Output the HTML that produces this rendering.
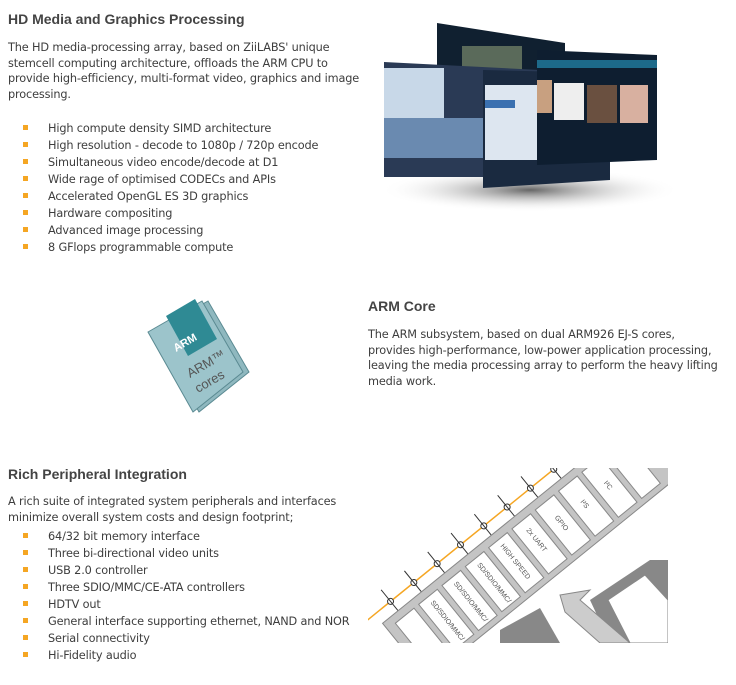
<!DOCTYPE html>
<html><head><meta charset="utf-8"><style>
body{margin:0;width:736px;height:685px;background:#fff;position:relative;overflow:hidden;font-family:"DejaVu Sans","Liberation Sans",sans-serif;color:#3d3d3d}
.h{position:absolute;font:bold 14px "Liberation Sans",sans-serif;color:#444;margin:0}
.p{position:absolute;font-size:11.3px;line-height:15.5px;letter-spacing:-0.15px;margin:0;white-space:nowrap}
ul{position:absolute;list-style:none;margin:0;padding:0;font-size:11.3px;letter-spacing:-0.15px}
li{height:17px;line-height:17px;position:relative;padding-left:25px;white-space:nowrap}
li:before{content:"";position:absolute;left:0;top:5px;width:5px;height:5px;background:#f5a623}
</style></head><body>
<div class="h" style="left:8px;top:11px">HD Media and Graphics Processing</div>
<div class="p" style="left:8px;top:40px">The HD media-processing array, based on ZiiLABS' unique<br>stemcell computing architecture, offloads the ARM CPU to<br>provide high-efficiency, multi-format video, graphics and image<br>processing.</div>
<ul style="left:23px;top:120px">
<li>High compute density SIMD architecture</li>
<li>High resolution - decode to 1080p / 720p encode</li>
<li>Simultaneous video encode/decode at D1</li>
<li>Wide rage of optimised CODECs and APIs</li>
<li>Accelerated OpenGL ES 3D graphics</li>
<li>Hardware compositing</li>
<li>Advanced image processing</li>
<li>8 GFlops programmable compute</li>
</ul>

<svg style="position:absolute;left:0;top:0" width="736" height="685">
<defs><radialGradient id="sh"><stop offset="0" stop-color="#666"/><stop offset="1" stop-color="#fff" stop-opacity="0"/></radialGradient></defs>
<ellipse cx="530" cy="190" rx="150" ry="22" fill="url(#sh)"/>
<polygon points="437,23 565,43 565,140 437,130" fill="#102030"/>
<rect x="462" y="46" width="60" height="70" fill="#5a6a5a"/>
<polygon points="384,62 540,70 540,177 384,177" fill="#2a3a55"/>
<rect x="384" y="68" width="60" height="50" fill="#c8d8e8"/>
<rect x="384" y="118" width="100" height="40" fill="#6a8ab0"/>
<polygon points="483,70 610,73 610,180 483,188" fill="#1a2a40"/>
<rect x="485" y="85" width="55" height="75" fill="#dde6f0"/>
<rect x="485" y="100" width="30" height="8" fill="#3a70b0"/>
<polygon points="537,50 657,55 657,160 537,165" fill="#0e1e30"/>
<rect x="537" y="60" width="120" height="8" fill="#1d6a8a"/>
<rect x="554" y="83" width="30" height="37" fill="#eee"/>
<rect x="587" y="85" width="30" height="38" fill="#6a5040"/>
<rect x="620" y="85" width="28" height="38" fill="#d8b0a0"/>
<rect x="537" y="80" width="15" height="33" fill="#c8a080"/>

<polygon points="154,332 208,301 249,372 199,412" fill="#8fb8bf" stroke="#5a8a92"/>
<polygon points="148,332 202,301 243,372 193,412" fill="#9cc4cb" stroke="#5a8a92"/>
<polygon points="166,316 195,299 217,339 188,356" fill="#2f8a94"/>
<text x="176" y="352" transform="rotate(-30 176 352)" font-family="Liberation Sans" font-weight="bold" font-size="11" fill="#fff">ARM</text>
<text x="190" y="378" transform="rotate(-30 190 378)" font-family="Liberation Sans" font-size="13" fill="#555">ARM™</text>
<text x="198" y="393" transform="rotate(-30 198 393)" font-family="Liberation Sans" font-size="13" fill="#555">cores</text>

<g>
<clipPath id="c"><rect x="368" y="468" width="300" height="175"/></clipPath>
<g clip-path="url(#c)">
<g transform="translate(375,614) rotate(-39)">
<line x1="-20" y1="0" x2="420" y2="0" stroke="#f5a623" stroke-width="1.5"/>
<g stroke="#333" fill="#fff">
<circle cx="20" cy="0" r="3"/><circle cx="50" cy="0" r="3"/><circle cx="80" cy="0" r="3"/><circle cx="110" cy="0" r="3"/><circle cx="140" cy="0" r="3"/><circle cx="170" cy="0" r="3"/><circle cx="200" cy="0" r="3"/><circle cx="230" cy="0" r="3"/>
<line x1="20" y1="-15" x2="20" y2="20"/><line x1="50" y1="-15" x2="50" y2="20"/><line x1="80" y1="-15" x2="80" y2="20"/><line x1="110" y1="-15" x2="110" y2="20"/><line x1="140" y1="-15" x2="140" y2="20"/><line x1="170" y1="-15" x2="170" y2="20"/><line x1="200" y1="-15" x2="200" y2="20"/><line x1="230" y1="-15" x2="230" y2="20"/>
</g>
<rect x="0" y="12" width="420" height="72" fill="#c4c4c4" stroke="#888"/>
<g font-family="Liberation Sans" font-size="7" fill="#555">
<rect x="10" y="20" width="24" height="58" fill="#fff" stroke="#888"/>
<rect x="40" y="20" width="24" height="58" fill="#fff" stroke="#888"/>
<rect x="70" y="20" width="24" height="58" fill="#fff" stroke="#888"/>
<rect x="100" y="20" width="24" height="58" fill="#fff" stroke="#888"/>
<rect x="130" y="20" width="24" height="58" fill="#fff" stroke="#888"/>
<rect x="160" y="20" width="24" height="58" fill="#fff" stroke="#888"/>
<rect x="190" y="20" width="24" height="58" fill="#fff" stroke="#888"/>
<rect x="220" y="20" width="24" height="58" fill="#fff" stroke="#888"/>
<rect x="250" y="20" width="24" height="58" fill="#fff" stroke="#888"/>
<rect x="280" y="20" width="24" height="58" fill="#fff" stroke="#888"/>
<text transform="translate(50,26) rotate(90)">SD/SDIO/MMC/</text>
<text transform="translate(80,26) rotate(90)">SD/SDIO/MMC/</text>
<text transform="translate(110,26) rotate(90)">SD/SDIO/MMC/</text>
<text transform="translate(140,26) rotate(90)">HIGH SPEED</text>
<text transform="translate(170,30) rotate(90)">2x UART</text>
<text transform="translate(200,38) rotate(90)">GPIO</text>
<text transform="translate(230,42) rotate(90)">I²S</text>
<text transform="translate(260,42) rotate(90)">I²C</text>
</g>
</g>
<polygon points="590,600 650,560 668,560 668,643 610,643" fill="#888"/>
<polygon points="608,600 645,575 668,600 668,643 630,643" fill="#fff" stroke="#888"/>
<polygon points="560,595 590,590 580,600 630,643 600,643 565,612" fill="#ccc" stroke="#888"/>
<polygon points="500,630 540,608 560,643 500,643" fill="#888"/>
</g>
</g>
</svg>

<div class="h" style="left:368px;top:298px">ARM Core</div>
<div class="p" style="left:368px;top:327px">The ARM subsystem, based on dual ARM926 EJ-S cores,<br>provides high-performance, low-power application processing,<br>leaving the media processing array to perform the heavy lifting<br>media work.</div>

<div class="h" style="left:8px;top:466px">Rich Peripheral Integration</div>
<div class="p" style="left:8px;top:494px">A rich suite of integrated system peripherals and interfaces<br>minimize overall system costs and design footprint;</div>
<ul style="left:23px;top:528px">
<li>64/32 bit memory interface</li>
<li>Three bi-directional video units</li>
<li>USB 2.0 controller</li>
<li>Three SDIO/MMC/CE-ATA controllers</li>
<li>HDTV out</li>
<li>General interface supporting ethernet, NAND and NOR</li>
<li>Serial connectivity</li>
<li>Hi-Fidelity audio</li>
</ul>
</body></html>
